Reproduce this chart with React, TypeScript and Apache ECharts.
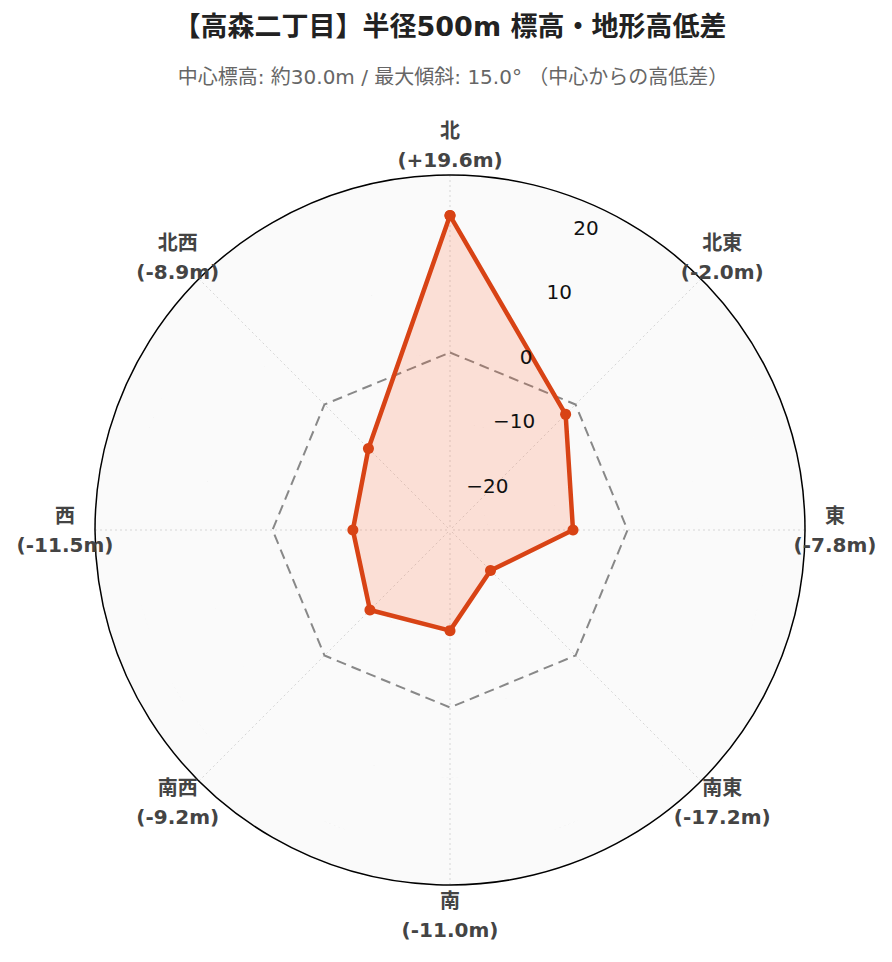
import React, { useEffect, useRef } from 'react';
import * as echarts from 'echarts';

// 8方位と中心からの高低差 (m)
const directions = ['北', '北東', '東', '南東', '南', '南西', '西', '北西'];
const elevationDiff = [19.6, -2.0, -7.8, -17.2, -11.0, -9.2, -11.5, -8.9];
const baseline = [0, 0, 0, 0, 0, 0, 0, 0];
const radialRange = [-25.4, 25.4];

const TITLE = '【高森二丁目】半径500m 標高・地形高低差';
const SUBTITLE = '中心標高: 約30.0m / 最大傾斜: 15.0° （中心からの高低差）';

const FONT = '"DejaVu Sans", "Noto Sans CJK JP", sans-serif';
const CX = 442;
const CY = 522;
const R = 355;
const LABEL_R = 385;
const STEP = 360 / directions.length;

// [radius, angle] pairs, polygon closed by repeating the first direction at 360°
const closed = (vals: number[]) =>
  [...vals, vals[0]].map((v, i) => [v, i * STEP]);

const fmtRadial = (v: number) => (v < 0 ? '\u2212' + Math.abs(v) : String(v));

const App: React.FC = () => {
  const chartRef = useRef<HTMLDivElement>(null);

  useEffect(() => {
    if (!chartRef.current) return;
    const chart = echarts.init(chartRef.current, undefined, { renderer: 'svg' });

    const labels = directions.map((d, i) => {
      const a = (i * STEP * Math.PI) / 180;
      const v = elevationDiff[i];
      return {
        type: 'text',
        x: CX + LABEL_R * Math.sin(a),
        y: CY - LABEL_R * Math.cos(a),
        z: 50,
        style: {
          text: `${d}\n(${v > 0 ? '+' : ''}${v.toFixed(1)}m)`,
          fill: '#444',
          fontSize: 20,
          fontWeight: 'bold',
          fontFamily: FONT,
          align: 'center',
          verticalAlign: 'middle',
          lineHeight: 29,
        },
      };
    });

    const option = {
      animation: false,
      backgroundColor: '#fff',
      title: [
        {
          text: TITLE,
          left: 437,
          top: 0,
          textAlign: 'center',
          textStyle: { fontSize: 27, fontWeight: 'bold', color: '#222', fontFamily: FONT },
        },
        {
          text: SUBTITLE,
          left: 440,
          top: 54,
          textAlign: 'center',
          textStyle: { fontSize: 20, fontWeight: 'normal', color: '#666', fontFamily: FONT },
        },
      ],
      polar: [
        { center: [CX, CY], radius: R },
        { center: [CX, CY], radius: R },
      ],
      angleAxis: [
        {
          polarIndex: 0,
          type: 'value',
          min: 0,
          max: 360,
          interval: STEP,
          startAngle: 90,
          clockwise: true,
          axisLine: { show: true, lineStyle: { color: '#000', width: 1.5 } },
          axisTick: { show: false },
          axisLabel: { show: false },
          splitLine: { show: true, lineStyle: { color: '#d6d6d6', width: 1, type: [2, 3] } },
        },
        { polarIndex: 1, type: 'value', startAngle: 67.5, show: false },
      ],
      radiusAxis: [
        {
          polarIndex: 0,
          type: 'value',
          min: radialRange[0],
          max: radialRange[1],
          axisLine: { show: false },
          axisTick: { show: false },
          axisLabel: { show: false },
          splitLine: { show: true, lineStyle: { color: '#d6d6d6', width: 1, type: [2, 3] } },
          splitArea: { show: true, areaStyle: { color: ['#fafafa'] } },
        },
        {
          polarIndex: 1,
          type: 'value',
          min: radialRange[0],
          max: radialRange[1],
          z: 10,
          axisLine: { show: false },
          axisTick: { show: false },
          splitLine: { show: false },
          axisLabel: {
            show: true,
            margin: -2,
            align: 'left',
            verticalAlign: 'bottom',
            showMinLabel: false,
            showMaxLabel: false,
            formatter: fmtRadial,
            fontSize: 20,
            color: '#111',
            fontFamily: FONT,
          },
        },
      ],
      series: [
        {
          name: '基準 (0m)',
          type: 'line',
          coordinateSystem: 'polar',
          polarIndex: 0,
          data: closed(baseline),
          symbol: 'none',
          silent: true,
          lineStyle: { color: '#888', width: 2, type: [10, 6] },
          z: 2,
        },
        {
          name: '高低差',
          type: 'line',
          coordinateSystem: 'polar',
          polarIndex: 0,
          data: closed(elevationDiff),
          symbol: 'circle',
          symbolSize: 11,
          itemStyle: { color: '#d84315' },
          lineStyle: { color: '#d84315', width: 4.5 },
          areaStyle: { origin: 'start', color: 'rgba(255, 87, 34, 0.17)', opacity: 1 },
          z: 3,
        },
      ],
      graphic: labels,
    };

    chart.setOption(option);

    const handleResize = () => chart.resize();
    window.addEventListener('resize', handleResize);
    return () => {
      window.removeEventListener('resize', handleResize);
      chart.dispose();
    };
  }, []);

  return <div ref={chartRef} style={{ width: '100%', height: '946px' }} />;
};

export default App;
